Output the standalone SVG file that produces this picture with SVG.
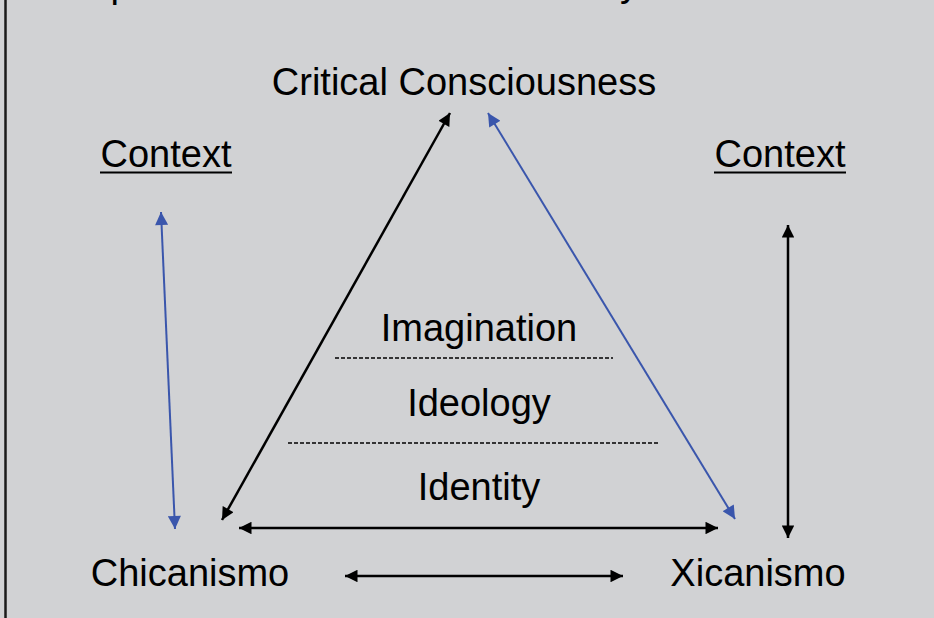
<svg xmlns="http://www.w3.org/2000/svg" width="934" height="618" viewBox="0 0 934 618">
<defs>
<style>
text{font-family:"Liberation Sans",Arial,sans-serif;font-size:38px;fill:#000}
.c{text-anchor:middle}
.k{stroke:#000;stroke-width:2.5;fill:none}
.b{stroke:#3a56ac;stroke-width:2;fill:none}
.d{stroke:#000;stroke-width:1.3;stroke-dasharray:4 2;fill:none}
</style>
<marker id="ak" viewBox="0 0 10 10" refX="10" refY="5" markerWidth="5.5" markerHeight="5" orient="auto-start-reverse" markerUnits="strokeWidth"><path d="M0,0L10,5L0,10z" fill="#000"/></marker>
<marker id="ab" viewBox="0 0 10 10" refX="10" refY="5" markerWidth="7" markerHeight="6.5" orient="auto-start-reverse" markerUnits="strokeWidth"><path d="M0,0L10,5L0,10z" fill="#3a56ac"/></marker>
</defs>
<rect width="934" height="618" fill="#d1d2d4"/>
<line x1="5.5" y1="0" x2="5.5" y2="618" stroke="#1a1a1a" stroke-width="2.5"/>
<text x="110.5" y="-3">p</text>
<text x="620" y="-4">y</text>
<g id="critical"><text class="c" x="464" y="95">Critical Consciousness</text></g>
<g id="context-left"><text class="c" x="166" y="167">Context</text><line x1="100" y1="172.5" x2="232" y2="172.5" stroke="#000" stroke-width="2"/></g>
<g id="context-right"><text class="c" x="780" y="167">Context</text><line x1="714" y1="172.5" x2="846" y2="172.5" stroke="#000" stroke-width="2"/></g>
<g id="imagination"><text class="c" x="479" y="341">Imagination</text></g>
<g id="ideology"><text class="c" x="479" y="416">Ideology</text></g>
<g id="identity"><text class="c" x="479" y="500">Identity</text></g>
<g id="chicanismo"><text class="c" x="190" y="586">Chicanismo</text></g>
<g id="xicanismo"><text class="c" x="758" y="586">Xicanismo</text></g>
<g id="connectors">
<line class="d" x1="335" y1="358" x2="613" y2="358"/>
<line class="d" x1="288" y1="443" x2="659" y2="443"/>
<line class="k" x1="222" y1="520" x2="450" y2="113" marker-start="url(#ak)" marker-end="url(#ak)"/>
<line class="b" x1="488" y1="113" x2="735" y2="519" marker-start="url(#ab)" marker-end="url(#ab)"/>
<line class="k" x1="239" y1="528" x2="718" y2="528" marker-start="url(#ak)" marker-end="url(#ak)"/>
<line class="b" x1="161" y1="212" x2="175" y2="529" marker-start="url(#ab)" marker-end="url(#ab)"/>
<line class="k" x1="788" y1="225" x2="788" y2="538" marker-start="url(#ak)" marker-end="url(#ak)"/>
<line class="k" x1="345" y1="576" x2="623" y2="576" marker-start="url(#ak)" marker-end="url(#ak)"/>
</g>
</svg>
